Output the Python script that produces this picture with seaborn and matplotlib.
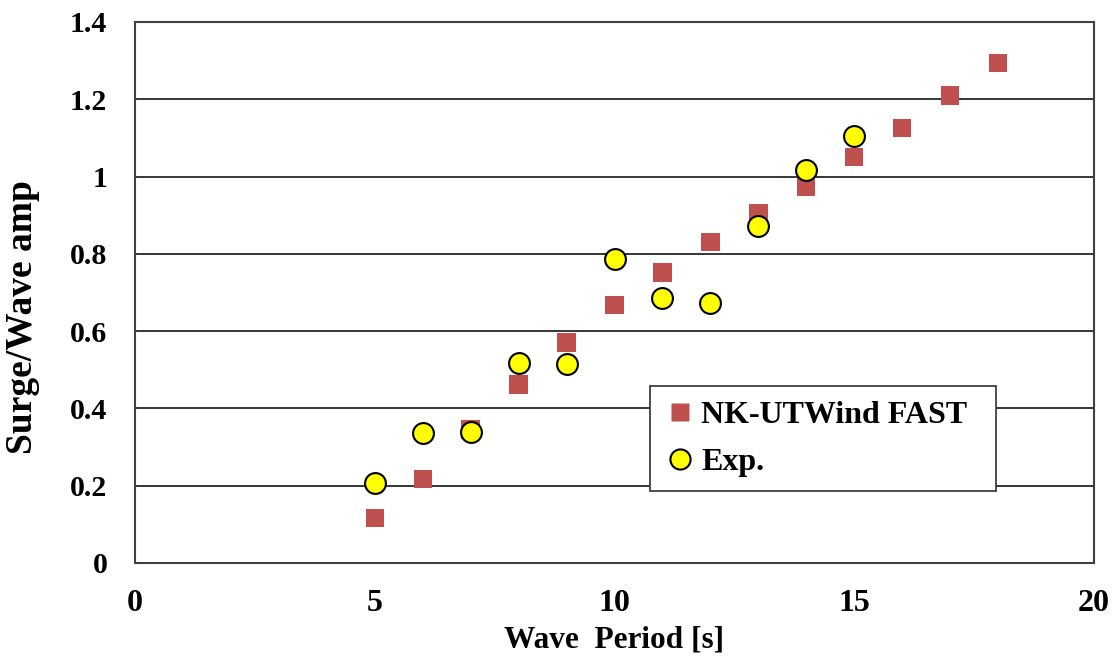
import matplotlib
matplotlib.use("Agg")
import matplotlib.pyplot as plt
import seaborn as sns
import pandas as pd
from matplotlib.lines import Line2D

# Surge response amplitude operator vs. wave period
sim_period = [5, 6, 7, 8, 9, 10, 11, 12, 13, 14, 15, 16, 17, 18]
sim_surge = [0.117, 0.217, 0.345, 0.462, 0.571, 0.667, 0.752, 0.830, 0.905,
             0.974, 1.050, 1.125, 1.210, 1.294]

exp_period = [5, 6, 7, 8, 9, 10, 11, 12, 13, 14, 15]
exp_surge = [0.206, 0.336, 0.338, 0.517, 0.514, 0.787, 0.686, 0.672, 0.872,
             1.017, 1.105]

series_names = ["NK-UTWind FAST", "Exp."]
x_ticks = [0, 5, 10, 15, 20]
y_ticks = [0, 0.2, 0.4, 0.6, 0.8, 1.0, 1.2, 1.4]
y_tick_labels = ["0", "0.2", "0.4", "0.6", "0.8", "1", "1.2", "1.4"]

sim_df = pd.DataFrame({"period": sim_period, "surge": sim_surge})
exp_df = pd.DataFrame({"period": exp_period, "surge": exp_surge})

sns.set_theme(style="white")
plt.rcParams["font.family"] = ["Liberation Serif", "DejaVu Serif"]
plt.rcParams["font.weight"] = "bold"
for key in ("text.color", "axes.labelcolor", "xtick.color", "ytick.color"):
    plt.rcParams[key] = "black"

fig = plt.figure(figsize=(11.18, 6.6), dpi=100)
ax = fig.add_axes([0.1208, 0.147, 0.8577, 0.8197])

sq_color = "#C0504D"
sns.scatterplot(data=sim_df, x="period", y="surge", ax=ax, marker="s",
                s=175, color=sq_color, edgecolor="none", linewidth=0,
                zorder=3, legend=False)
sns.scatterplot(data=exp_df, x="period", y="surge", ax=ax, marker="o",
                s=225, color="#FFFF00", edgecolor="black", linewidth=1.5,
                zorder=4, legend=False)

ax.set_xlim(0, 20)
ax.set_ylim(0, 1.4)
ax.set_xticks(x_ticks)
ax.set_yticks(y_ticks)
ax.set_yticklabels(y_tick_labels)

ax.yaxis.grid(True, color="#000000", linewidth=1.1)
ax.xaxis.grid(False)
ax.set_axisbelow(True)

for sp in ax.spines.values():
    sp.set_visible(True)
    sp.set_color("#404040")
    sp.set_linewidth(1.5)

ax.tick_params(axis="x", direction="in", length=8, width=1.2, color="#404040",
               labelsize=23, pad=19)
ax.tick_params(axis="y", length=0, labelsize=21.5, pad=20)
for lbl in ax.get_xticklabels() + ax.get_yticklabels():
    lbl.set_fontweight("bold")

ax.set_xlabel("Wave  Period [s]", fontsize=22.5, fontweight="bold", labelpad=5)
ax.set_ylabel("Surge/Wave amp", fontsize=27, fontweight="bold")
ax.yaxis.set_label_coords(-0.0995, 0.455)

handles = [
    Line2D([], [], linestyle="none", marker="s", markersize=13.5,
           markerfacecolor=sq_color, markeredgecolor="none"),
    Line2D([], [], linestyle="none", marker="o", markersize=14.5,
           markerfacecolor="#FFFF00", markeredgecolor="black",
           markeredgewidth=1.5),
]
leg = ax.legend(handles, series_names, loc="upper left",
                bbox_to_anchor=(0.537, 0.137, 0.361, 0.19), mode="expand",
                borderaxespad=0, frameon=True, fancybox=False, framealpha=1,
                edgecolor="#303030", prop={"size": 23, "weight": "bold"},
                handlelength=1.0, handletextpad=0.15, labelspacing=0.55,
                borderpad=0.45)
leg.get_frame().set_linewidth(1.2)

fig.savefig("out.png", dpi=100, facecolor="white")
